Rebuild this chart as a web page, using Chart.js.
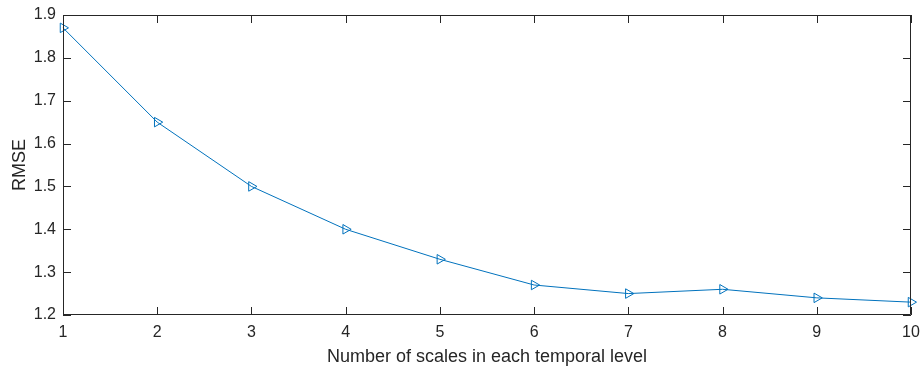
<!DOCTYPE html>
<html>
<head>
<meta charset="utf-8">
<script src="https://cdn.jsdelivr.net/npm/chart.js@4/dist/chart.umd.min.js"></script>
<style>
    html, body { margin: 0; padding: 0; background: #fff; }
    #wrap { width: 921px; height: 369px; }
</style>
</head>
<body>
<div id="wrap"><canvas id="rmseChart"></canvas></div>
<script>
const scales = [1, 2, 3, 4, 5, 6, 7, 8, 9, 10];
const rmse = [1.87, 1.65, 1.50, 1.40, 1.33, 1.27, 1.25, 1.26, 1.24, 1.23];
const yTicks = [1.2, 1.3, 1.4, 1.5, 1.6, 1.7, 1.8, 1.9];

const axisColor = '#262626';
const lineColor = '#0072BD';
const font = { family: "'Liberation Sans', Arial, sans-serif", size: 16 };
const titleFont = { family: "'Liberation Sans', Arial, sans-serif", size: 18 };

// MATLAB-style box with inward ticks on all four sides.
const boxTicks = {
    id: 'boxTicks',
    afterDatasetsDraw(chart) {
        const { ctx, chartArea: a, scales: { x, y } } = chart;
        const len = 8;
        ctx.save();
        ctx.strokeStyle = axisColor;
        ctx.lineWidth = 1;
        ctx.beginPath();
        ctx.rect(a.left + 0.5, a.top + 0.5, a.right - a.left - 1, a.bottom - a.top - 1);
        x.ticks.forEach(t => {
            const px = Math.round(x.getPixelForValue(t.value)) + 0.5;
            ctx.moveTo(px, a.bottom);
            ctx.lineTo(px, a.bottom - len);
            ctx.moveTo(px, a.top);
            ctx.lineTo(px, a.top + len);
        });
        y.ticks.forEach(t => {
            const py = Math.round(y.getPixelForValue(t.value)) + 0.5;
            ctx.moveTo(a.left, py);
            ctx.lineTo(a.left + len, py);
            ctx.moveTo(a.right, py);
            ctx.lineTo(a.right - len, py);
        });
        ctx.stroke();
        ctx.restore();
    }
};

new Chart(document.getElementById('rmseChart'), {
    type: 'line',
    data: {
        datasets: [{
            data: scales.map((s, i) => ({ x: s, y: rmse[i] })),
            borderColor: lineColor,
            borderWidth: 1,
            backgroundColor: 'transparent',
            pointStyle: 'triangle',
            rotation: 90,
            pointRadius: 5.5,
            pointBorderColor: lineColor,
            pointBackgroundColor: 'transparent',
            pointBorderWidth: 1,
            tension: 0,
            clip: false,
        }],
    },
    options: {
        animation: false,
        responsive: true,
        maintainAspectRatio: false,
        events: [],
        layout: { padding: { left: 0, right: 10, top: 15, bottom: 0 } },
        plugins: {
            legend: { display: false },
            tooltip: { enabled: false },
        },
        scales: {
            x: {
                type: 'linear',
                min: 1,
                max: 10,
                grid: { display: false, drawTicks: false },
                border: { display: false },
                ticks: { stepSize: 1, color: axisColor, font, padding: 8, maxRotation: 0 },
                title: { display: true, text: 'Number of scales in each temporal level', color: axisColor, font: titleFont, padding: { top: 0, bottom: 1 } },
                afterFit: scale => {
                    scale.height = 54;
                    scale.paddingLeft = 0;
                    scale.paddingRight = 0;
                },
            },
            y: {
                type: 'linear',
                min: 1.2,
                max: 1.9,
                grid: { display: false, drawTicks: false },
                border: { display: false },
                afterBuildTicks: scale => { scale.ticks = yTicks.map(v => ({ value: v })); },
                ticks: { color: axisColor, font, padding: 7, callback: v => Number(v).toFixed(1) },
                title: { display: true, text: 'RMSE', color: axisColor, font: titleFont, padding: { top: 9, bottom: 0 } },
                afterFit: scale => {
                    scale.width = 63;
                    scale.paddingTop = 0;
                    scale.paddingBottom = 0;
                },
            },
        },
    },
    plugins: [boxTicks],
});
</script>
</body>
</html>
